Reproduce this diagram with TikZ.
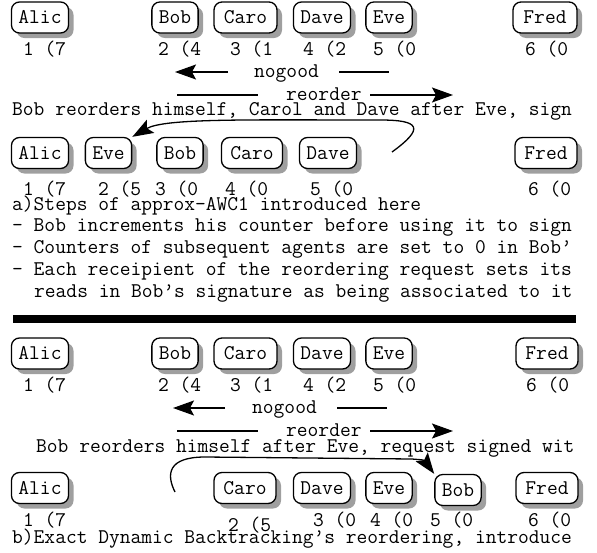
\documentclass[tikz,border=0pt]{standalone}
\usepackage{fontspec}
\usetikzlibrary{shadows,arrows.meta}

\begin{document}
\begin{tikzpicture}%
  [x=1pt,y=-1pt,font=\ttfamily\fontsize{20.9}{24}\selectfont,
   every node/.style={inner sep=0pt}]
  \tikzstyle{agent}=[rectangle,draw,fill=white,rounded corners=8pt,line width=1.3pt,
    inner xsep=7pt,minimum height=31pt,
    general shadow={fill=gray!75,shadow xshift=5pt,shadow yshift=-5pt}]
  \tikzstyle{txt}=[anchor=base west]
  \tikzstyle{arr}=[line width=1.3pt,-{Stealth[length=21pt,width=15pt,inset=4pt]}]
  \tikzstyle{ln}=[line width=1.3pt]
  \useasboundingbox (0,0) rectangle (597,552);
  % row 1
  \node(alice1)[agent] at (40,17.5) {Alic};
  \node(bob1)[agent] at (175,17.5) {Bob};
  \node(carol1)[agent,minimum width=63pt] at (245.5,17.5) {Caro};
  \node(dave1)[agent] at (322,17.5) {Dave};
  \node(eve1)[agent] at (389,17.5) {Eve};
  \node(fred1)[agent,minimum width=64pt] at (545,17.5) {Fred};
  \node(n11)[txt] at (23,55) {1 (7};
  \node(n12)[txt] at (158,55) {2 (4};
  \node(n13)[txt] at (230,55) {3 (1};
  \node(n14)[txt] at (303,55) {4 (2};
  \node(n15)[txt] at (373,55) {5 (0};
  \node(n16)[txt] at (525,55) {6 (0};
  \node(nogood1)[txt] at (254,77) {nogood};
  \coordinate(ng1a) at (228,72); \coordinate(ng1b) at (175,72);
  \coordinate(ng1c) at (339,72); \coordinate(ng1d) at (389,72);
  \draw[arr] (ng1a) -- (ng1b);
  \draw[ln] (ng1c) -- (ng1d);
  \node(reorder1)[txt] at (286,100) {reorder};
  \coordinate(ro1a) at (177,95); \coordinate(ro1b) at (258,95);
  \coordinate(ro1c) at (370,95); \coordinate(ro1d) at (453,95);
  \draw[ln] (ro1a) -- (ro1b);
  \draw[arr] (ro1c) -- (ro1d);
  \node(say1)[txt] at (12,115) {Bob reorders himself, Carol and Dave after Eve, sign};
  % row 2
  \node(alice2)[agent] at (40,153) {Alic};
  \node(eve2)[agent] at (108.5,153) {Eve};
  \node(bob2)[agent] at (180,153) {Bob};
  \node(carol2)[agent,minimum width=61pt] at (252,153) {Caro};
  \node(dave2)[agent] at (328,153) {Dave};
  \node(fred2)[agent,minimum width=62pt] at (546,153) {Fred};
  \node(n21)[txt] at (23,195) {1 (7};
  \node(n22)[txt] at (98,195) {2 (5};
  \node(n23)[txt] at (155,195) {3 (0};
  \node(n24)[txt] at (225,195) {4 (0};
  \node(n25)[txt] at (310,195) {5 (0};
  \node(n26)[txt] at (528,195) {6 (0};
  \coordinate(mv1) at (392,152);
  \draw[arr] (mv1) .. controls (425,128) and (420,120) .. (380,120)
    .. controls (250,120) and (165,118) .. (eve2.north east);
  \node(capA)[txt] at (12,210) {a)Steps of approx-AWC1 introduced here};
  \node(capA1)[txt] at (12,231.75) {- Bob increments his counter before using it to sign};
  \node(capA2)[txt] at (12,253.5) {- Counters of subsequent agents are set to 0 in Bob’};
  \node(capA3)[txt] at (12,275.25) {- Each receipient of the reordering request sets its};
  \node(capA4)[txt] at (34,297) {reads in Bob’s signature as being associated to it};
  \draw[line width=8pt] (13,319) -- (576,319);
  % row 3
  \node(alice3)[agent] at (40,353.5) {Alic};
  \node(bob3)[agent] at (175,353.5) {Bob};
  \node(carol3)[agent,minimum width=63pt] at (245.5,353.5) {Caro};
  \node(dave3)[agent] at (322,353.5) {Dave};
  \node(eve3)[agent] at (389,353.5) {Eve};
  \node(fred3)[agent,minimum width=62pt] at (547,353.5) {Fred};
  \node(n31)[txt] at (23,391) {1 (7};
  \node(n32)[txt] at (158,391) {2 (4};
  \node(n33)[txt] at (230,391) {3 (1};
  \node(n34)[txt] at (303,391) {4 (2};
  \node(n35)[txt] at (373,391) {5 (0};
  \node(n36)[txt] at (526,391) {6 (0};
  \node(nogood3)[txt] at (252,413) {nogood};
  \coordinate(ng3a) at (225,408); \coordinate(ng3b) at (173,408);
  \coordinate(ng3c) at (337,408); \coordinate(ng3d) at (387,408);
  \draw[arr] (ng3a) -- (ng3b);
  \draw[ln] (ng3c) -- (ng3d);
  \node(reorder3)[txt] at (286,436) {reorder};
  \coordinate(ro3a) at (177,431); \coordinate(ro3b) at (258,431);
  \coordinate(ro3c) at (370,431); \coordinate(ro3d) at (453,431);
  \draw[ln] (ro3a) -- (ro3b);
  \draw[arr] (ro3c) -- (ro3d);
  \node(say3)[txt] at (36,452) {Bob reorders himself after Eve, request signed wit};
  % row 4
  \node(alice4)[agent] at (40,488) {Alic};
  \node(carol4)[agent,minimum width=62pt] at (245,488) {Caro};
  \node(dave4)[agent] at (322,488) {Dave};
  \node(eve4)[agent] at (389,488) {Eve};
  \node(bob4)[agent] at (458,490) {Bob};
  \node(fred4)[agent,minimum width=62pt] at (547,488) {Fred};
  \node(n41)[txt] at (23,526) {1 (7};
  \node(n42)[txt] at (228,531) {2 (5};
  \node(n43)[txt] at (313,526) {3 (0};
  \node(n44)[txt] at (370,526) {4 (0};
  \node(n45)[txt] at (430,526) {5 (0};
  \node(n46)[txt] at (528,526) {6 (0};
  \coordinate(mv3) at (175,492);
  \draw[arr] (mv3) .. controls (166,474) and (168,457) .. (205,457)
    -- (412,459) .. controls (424,460) .. (bob4.north west);
  \node(capB)[txt] at (12,543) {b)Exact Dynamic Backtracking’s reordering, introduce};
\end{tikzpicture}
\end{document}
